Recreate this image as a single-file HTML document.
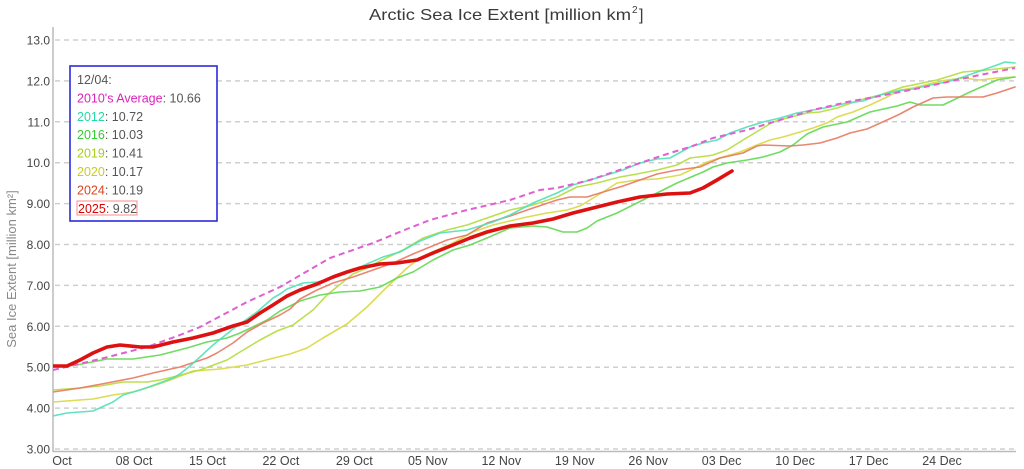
<!DOCTYPE html>
<html><head><meta charset="utf-8"><style>
html,body{margin:0;padding:0;background:#fff;}
svg{display:block;font-family:"Liberation Sans",sans-serif;}
</style></head><body>
<svg width="1024" height="469" viewBox="0 0 1024 469" xmlns="http://www.w3.org/2000/svg">
<rect width="1024" height="469" fill="#fff"/>
<defs><clipPath id="pc"><rect x="53" y="25" width="963" height="426"/></clipPath></defs>
<!-- title -->
<text x="369" y="20" font-size="16" fill="#3a3a3a" textLength="262" lengthAdjust="spacingAndGlyphs">Arctic Sea Ice Extent [million km</text>
<text x="632" y="13" font-size="10" fill="#3a3a3a">2</text>
<text x="639" y="20" font-size="16" fill="#3a3a3a">]</text>
<!-- grid -->
<g stroke="#cfcfcf" stroke-width="1.5" stroke-dasharray="5,4">
<line x1="55" y1="40" x2="1016" y2="40"/>
<line x1="55" y1="80.9" x2="1016" y2="80.9"/>
<line x1="55" y1="121.8" x2="1016" y2="121.8"/>
<line x1="55" y1="162.7" x2="1016" y2="162.7"/>
<line x1="55" y1="203.6" x2="1016" y2="203.6"/>
<line x1="55" y1="244.5" x2="1016" y2="244.5"/>
<line x1="55" y1="285.4" x2="1016" y2="285.4"/>
<line x1="55" y1="326.3" x2="1016" y2="326.3"/>
<line x1="55" y1="367.2" x2="1016" y2="367.2"/>
<line x1="55" y1="408.1" x2="1016" y2="408.1"/>
<line x1="55" y1="449" x2="1016" y2="449"/>
</g>
<!-- axes -->
<line x1="53" y1="27" x2="53" y2="452" stroke="#bbb" stroke-width="1.5"/>
<line x1="53" y1="451.5" x2="1016" y2="451.5" stroke="#bbb" stroke-width="1.5"/>
<!-- y labels -->
<g font-size="12" fill="#444" text-anchor="end">
<text x="50" y="44.5">13.0</text>
<text x="50" y="85.4">12.0</text>
<text x="50" y="126.3">11.0</text>
<text x="50" y="167.2">10.0</text>
<text x="50" y="208.1">9.00</text>
<text x="50" y="249">8.00</text>
<text x="50" y="289.9">7.00</text>
<text x="50" y="330.8">6.00</text>
<text x="50" y="371.7">5.00</text>
<text x="50" y="412.6">4.00</text>
<text x="50" y="453.5">3.00</text>
</g>
<text transform="translate(16,269) rotate(-90)" font-size="13" fill="#888" text-anchor="middle">Sea Ice Extent [million km²]</text>
<!-- x labels -->
<g font-size="12.5" fill="#444" text-anchor="middle">
<text x="62" y="465">Oct</text>
<text x="134" y="465">08 Oct</text>
<text x="207.4" y="465">15 Oct</text>
<text x="280.9" y="465">22 Oct</text>
<text x="354.3" y="465">29 Oct</text>
<text x="427.8" y="465">05 Nov</text>
<text x="501.3" y="465">12 Nov</text>
<text x="574.7" y="465">19 Nov</text>
<text x="648.2" y="465">26 Nov</text>
<text x="721.6" y="465">03 Dec</text>
<text x="795.1" y="465">10 Dec</text>
<text x="868.6" y="465">17 Dec</text>
<text x="942" y="465">24 Dec</text>
</g>
<!-- series -->
<g clip-path="url(#pc)" fill="none" stroke-linejoin="round" stroke-linecap="round">
<polyline stroke="#d8d840" stroke-width="1.6" stroke-opacity="0.9" points="53,402 93,399 113,395 133,392 153,386 173,379 193,371 207,370 220,369 247,365 270,359 290,354 307,348 323,338 340,328 347,324 367,307 387,287 407,268 420,258 430,253 453,243 473,232 493,225 510,221 527,217 547,213 567,210 580,206 590,200 603,192 617,183 637,180 657,179 680,175 693,169 707,162 723,157 740,152 757,145 770,140 783,137 800,132 813,128 827,123 837,117 853,112 870,105 887,97 900,90 913,88 933,83 947,80 963,78 980,80 997,78 1015,77"/>
<polyline stroke="#b4dc3c" stroke-width="1.6" stroke-opacity="0.9" points="53,390 80,388 100,386 123,382 147,382 160,380 173,377 200,370 227,360 240,352 260,340 277,331 293,325 313,310 327,295 343,282 353,274 367,268 380,261 403,250 423,238 447,230 467,225 487,218 510,210 533,205 557,197 577,187 597,183 620,177 637,174 657,170 677,165 690,158 707,156 713,155 727,150 743,140 763,128 773,122 787,118 807,113 820,112 837,108 860,100 880,95 903,87 937,80 963,72 987,70 1015,67"/>
<polyline stroke="#60d850" stroke-width="1.6" stroke-opacity="0.9" points="53,367 77,365 107,359 133,359 160,355 187,348 207,342 227,338 240,333 257,325 267,320 280,311 300,301 320,295 340,292 360,291 380,287 397,278 413,272 433,260 453,250 470,245 487,238 510,228 533,226 547,227 563,232 577,232 587,228 597,221 617,213 637,203 657,193 677,183 703,172 713,167 727,163 747,160 763,157 780,152 793,145 807,134 823,127 847,122 870,112 897,106 910,102 920,105 943,105 970,92 997,80 1015,77"/>
<polyline stroke="#e87860" stroke-width="1.6" stroke-opacity="0.9" points="53,392 80,388 107,383 133,378 153,373 180,367 207,358 217,353 233,343 247,332 263,323 280,315 290,309 300,299 317,290 333,283 353,277 373,270 393,263 413,254 430,247 447,240 467,235 487,223 510,216 533,208 557,200 570,197 587,197 600,193 623,186 640,180 657,174 677,170 700,167 720,158 743,153 757,146 763,145 790,146 803,145 820,143 837,138 850,133 867,129 887,120 900,114 913,107 933,98 947,97 983,97 997,93 1015,87"/>
<polyline stroke="#50e0b8" stroke-width="1.6" stroke-opacity="0.9" points="53,416 67,413 93,411 113,402 123,395 140,390 157,384 173,378 180,374 190,366 200,357 213,345 233,329 257,312 273,298 280,294 287,289 303,283 317,282 330,279 347,273 367,264 383,257 400,252 420,241 440,233 467,230 493,222 510,215 533,203 557,193 573,185 600,177 623,170 640,163 657,159 670,158 690,147 703,143 717,140 730,133 747,127 763,122 780,118 797,113 813,110 830,107 847,103 863,101 880,95 897,91 913,89 930,85 947,82 963,77 980,71 997,65 1005,62 1015,63"/>
<polyline stroke="#e060d0" stroke-width="2" stroke-dasharray="6,4" stroke-linecap="butt" points="53,370 100,359 147,347 180,335 200,327 247,302 280,287 330,258 373,243 407,229 430,220 467,210 480,207 510,200 540,190 557,188 590,180 640,163 670,153 690,147 713,138 747,130 780,120 813,110 847,102 880,96 920,88 947,82 970,77 1015,68"/>
<polyline stroke="#dd1111" stroke-width="3.6" points="53,366 67,366 80,360 93,353 107,347 120,345 140,347 153,347 173,342 193,338 213,333 233,326 247,322 260,313 273,305 287,296 300,290 317,284 333,277 347,272 360,268 380,264 397,263 417,260 433,253 453,245 470,238 487,232 510,226 533,223 553,219 573,213 597,207 617,202 640,197 667,194 690,193 703,188 717,180 732,171"/>
</g>
<!-- legend -->
<rect x="70" y="66" width="147" height="155" fill="#fff" stroke="#2b2bdd" stroke-width="1.6"/>
<g font-size="12.5">
<text x="77" y="84" fill="#555">12/04:</text>
<text x="77" y="102.4"><tspan fill="#dd22bb">2010's Average</tspan><tspan fill="#555">: 10.66</tspan></text>
<text x="77" y="120.8"><tspan fill="#22d8a8">2012</tspan><tspan fill="#555">: 10.72</tspan></text>
<text x="77" y="139.2"><tspan fill="#33cc33">2016</tspan><tspan fill="#555">: 10.03</tspan></text>
<text x="77" y="157.6"><tspan fill="#a8cc22">2019</tspan><tspan fill="#555">: 10.41</tspan></text>
<text x="77" y="176"><tspan fill="#cccc22">2020</tspan><tspan fill="#555">: 10.17</tspan></text>
<text x="77" y="194.4"><tspan fill="#dd4422">2024</tspan><tspan fill="#555">: 10.19</tspan></text>
<rect x="77" y="201" width="60" height="14" fill="none" stroke="#ff8888" stroke-width="1"/>
<text x="78" y="212.8"><tspan fill="#dd0000">2025</tspan><tspan fill="#555">: 9.82</tspan></text>
</g>
</svg>
</body></html>
